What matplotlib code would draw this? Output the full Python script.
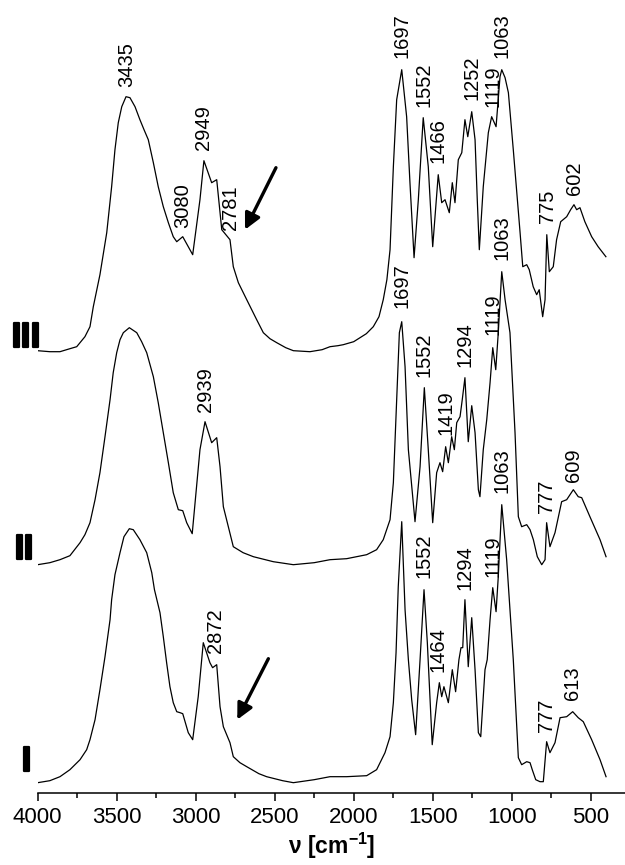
import matplotlib
matplotlib.use("Agg")
import matplotlib.pyplot as plt
import matplotlib.patheffects as pe
from matplotlib.ticker import MultipleLocator

plt.rcParams['font.family'] = ['Liberation Sans', 'DejaVu Sans']
plt.rcParams['mathtext.fontset'] = 'custom'
plt.rcParams['mathtext.rm'] = 'Liberation Sans'
plt.rcParams['mathtext.bf'] = 'Liberation Sans:bold'

# (wavenumber, intensity), each spectrum above its own baseline
spec_I = [
    (4000, 0.00), (3923, 0.02), (3859, 0.06), (3796, 0.13), (3732, 0.23), (3690, 0.33),
    (3669, 0.43), (3637, 0.63), (3606, 0.93), (3574, 1.26), (3542, 1.63), (3532, 1.83),
    (3511, 2.08), (3479, 2.30), (3454, 2.46), (3420, 2.54), (3395, 2.53), (3353, 2.43),
    (3310, 2.30), (3278, 2.10), (3261, 1.93), (3226, 1.70), (3205, 1.46), (3184, 1.20),
    (3163, 0.96), (3142, 0.80), (3120, 0.71), (3099, 0.70), (3082, 0.69), (3047, 0.50),
    (3019, 0.43), (2984, 0.86), (2952, 1.40), (2910, 1.20), (2893, 1.15), (2867, 1.18),
    (2846, 0.76), (2825, 0.56), (2783, 0.40), (2762, 0.26), (2720, 0.20), (2677, 0.16),
    (2600, 0.09), (2551, 0.06), (2450, 0.02), (2382, 0.00), (2250, 0.03), (2150, 0.06),
    (2045, 0.06), (1918, 0.07), (1855, 0.13), (1802, 0.30), (1770, 0.46), (1749, 0.80),
    (1732, 1.30), (1718, 1.96), (1696, 2.61), (1675, 1.73), (1654, 1.23), (1633, 0.83),
    (1608, 0.48), (1580, 1.23), (1555, 1.93), (1534, 1.40), (1503, 0.38), (1475, 0.80),
    (1458, 1.00), (1443, 0.86), (1429, 0.96), (1401, 0.80), (1376, 1.13), (1355, 0.91),
    (1334, 1.23), (1321, 1.35), (1310, 1.35), (1296, 1.83), (1275, 1.16), (1253, 1.65),
    (1232, 1.13), (1211, 0.50), (1196, 0.46), (1169, 1.13), (1155, 1.23), (1137, 1.63),
    (1120, 1.95), (1099, 1.71), (1085, 2.06), (1063, 2.78), (1032, 2.23), (990, 1.23),
    (958, 0.25), (937, 0.18), (905, 0.21), (884, 0.20), (870, 0.13), (848, 0.03),
    (821, 0.01), (800, 0.01), (779, 0.41), (758, 0.30), (726, 0.40), (694, 0.65),
    (652, 0.66), (614, 0.71), (579, 0.65), (547, 0.61), (494, 0.43), (441, 0.23),
    (403, 0.06)]

spec_II = [
    (4000, 0.00), (3923, 0.02), (3859, 0.05), (3796, 0.09), (3732, 0.22), (3701, 0.30),
    (3669, 0.42), (3637, 0.65), (3606, 0.92), (3574, 1.28), (3542, 1.65), (3522, 1.92),
    (3500, 2.12), (3479, 2.25), (3458, 2.32), (3420, 2.37), (3373, 2.32), (3342, 2.23),
    (3310, 2.12), (3268, 1.88), (3237, 1.62), (3205, 1.32), (3173, 1.02), (3142, 0.72),
    (3110, 0.55), (3082, 0.54), (3057, 0.42), (3022, 0.31), (2973, 1.15), (2941, 1.43),
    (2899, 1.22), (2867, 1.27), (2846, 0.98), (2825, 0.58), (2762, 0.18), (2700, 0.12),
    (2635, 0.08), (2509, 0.03), (2382, 0.00), (2250, 0.02), (2150, 0.05), (2045, 0.06),
    (1918, 0.10), (1855, 0.15), (1813, 0.25), (1770, 0.45), (1749, 0.82), (1728, 1.65),
    (1711, 2.32), (1696, 2.43), (1675, 1.98), (1654, 1.15), (1612, 0.43), (1580, 0.98),
    (1553, 1.77), (1528, 1.15), (1500, 0.42), (1475, 0.92), (1454, 1.02), (1437, 0.93),
    (1418, 1.18), (1401, 1.02), (1380, 1.28), (1363, 1.15), (1348, 1.42), (1327, 1.48),
    (1313, 1.65), (1296, 1.87), (1275, 1.23), (1253, 1.59), (1232, 1.32), (1211, 0.75),
    (1201, 0.68), (1180, 1.15), (1158, 1.45), (1137, 1.82), (1120, 2.17), (1101, 1.95),
    (1085, 2.32), (1063, 2.93), (1042, 2.65), (1011, 2.32), (979, 1.32), (958, 0.48),
    (937, 0.38), (905, 0.40), (884, 0.35), (863, 0.25), (838, 0.08), (810, 0.00),
    (789, 0.05), (779, 0.42), (758, 0.18), (726, 0.32), (684, 0.63), (652, 0.65),
    (610, 0.75), (579, 0.68), (557, 0.67), (505, 0.48), (441, 0.25), (403, 0.08)]

spec_III = [
    (4000, 0.01), (3923, 0.00), (3859, 0.00), (3796, 0.03), (3753, 0.05), (3701, 0.15),
    (3669, 0.25), (3648, 0.45), (3606, 0.77), (3563, 1.19), (3532, 1.65), (3511, 2.02),
    (3490, 2.29), (3468, 2.45), (3441, 2.55), (3416, 2.54), (3384, 2.45), (3353, 2.32),
    (3327, 2.22), (3300, 2.12), (3268, 1.89), (3237, 1.65), (3205, 1.45), (3173, 1.29),
    (3142, 1.15), (3120, 1.10), (3082, 1.15), (3019, 0.97), (2973, 1.52), (2948, 1.91),
    (2899, 1.69), (2867, 1.72), (2835, 1.22), (2783, 1.12), (2762, 0.85), (2730, 0.69),
    (2677, 0.52), (2614, 0.32), (2572, 0.19), (2530, 0.13), (2487, 0.09), (2430, 0.04),
    (2382, 0.01), (2277, 0.00), (2200, 0.02), (2150, 0.05), (2100, 0.06), (2066, 0.07),
    (2000, 0.10), (1960, 0.14), (1920, 0.18), (1876, 0.25), (1840, 0.35), (1813, 0.52),
    (1790, 0.72), (1770, 1.02), (1749, 1.85), (1728, 2.52), (1696, 2.82), (1665, 2.35),
    (1644, 1.69), (1618, 0.94), (1591, 1.52), (1560, 2.34), (1528, 1.85), (1500, 1.05),
    (1465, 1.77), (1443, 1.49), (1422, 1.52), (1395, 1.39), (1376, 1.69), (1359, 1.49),
    (1338, 1.92), (1316, 1.99), (1296, 2.32), (1278, 2.15), (1253, 2.40), (1232, 2.12),
    (1218, 1.52), (1205, 1.02), (1180, 1.65), (1148, 2.19), (1127, 2.35), (1099, 2.25),
    (1074, 2.75), (1063, 2.82), (1042, 2.74), (1021, 2.59), (990, 2.02), (947, 1.19),
    (930, 0.85), (905, 0.87), (889, 0.82), (864, 0.65), (842, 0.57), (826, 0.62),
    (804, 0.35), (789, 0.52), (778, 1.17), (762, 0.80), (737, 0.85), (716, 1.12),
    (690, 1.30), (652, 1.35), (627, 1.42), (606, 1.47), (589, 1.42), (568, 1.44),
    (537, 1.30), (494, 1.15), (453, 1.05), (404, 0.95)]

sample_names = ['I', 'II', 'III']

# band labels: (text, height of label foot)
labels_I = [('2872', 1.40), ('1552', 2.15), ('1464', 1.21), ('1294', 2.03), ('1119', 2.16),
            ('1063', 3.00), ('777', 0.61), ('613', 0.93)]
labels_II = [('2939', 3.81), ('1697', 4.85), ('1552', 4.16), ('1419', 3.58), ('1294', 4.26),
             ('1119', 4.58), ('1063', 5.33), ('777', 2.80), ('609', 3.11)]
labels_III = [('3435', 7.06), ('3080', 5.65), ('2949', 6.43), ('2781', 5.63), ('1697', 7.35),
              ('1552', 6.86), ('1466', 6.30), ('1252', 6.93), ('1119', 6.86), ('1063', 7.35),
              ('775', 5.70), ('602', 5.98)]

offsets = [0.10, 2.28, 4.41]

fig = plt.figure(figsize=(6.25, 8.65), dpi=100)
ax = fig.add_axes([0.0603, 0.0836, 0.9397, 0.9164])

for spec, off in zip([spec_I, spec_II, spec_III], offsets):
    wn = [p[0] for p in spec]
    ab = [p[1] + off for p in spec]
    ax.plot(wn, ab, color='black', lw=0.9)

for labels in (labels_I, labels_II, labels_III):
    for txt, yy in labels:
        ax.text(float(txt), yy, txt, rotation=90, ha='center', va='bottom', fontsize=14.5)

# arrows pointing at the shoulder near 2781
arrow_kw = dict(arrowstyle='-|>', lw=2.4, color='black', mutation_scale=24, shrinkA=0, shrinkB=0)
ax.annotate('', xy=(2688, 5.63), xytext=(2492, 6.25), arrowprops=arrow_kw)
ax.annotate('', xy=(2737, 0.73), xytext=(2540, 1.34), arrowprops=arrow_kw)

# sample names at left
name_pos = [(0.0424, 0.1087), (0.0384, 0.354), (0.0416, 0.599)]
for name, (fx, fy) in zip(sample_names, name_pos):
    fig.text(fx, fy, name, ha='center', va='baseline', fontsize=25, fontweight='bold',
             path_effects=[pe.withStroke(linewidth=1.6, foreground='black')])

ax.set_xlim(4000, 283)
ax.set_ylim(0, 7.927)
ax.xaxis.set_major_locator(MultipleLocator(500))
ax.xaxis.set_minor_locator(MultipleLocator(250))
ax.tick_params(axis='x', which='major', length=6, width=1.1, labelsize=16, pad=4)
ax.tick_params(axis='x', which='minor', length=3.5, width=1.1)
ax.set_yticks([])
for s in ['top', 'left', 'right']:
    ax.spines[s].set_visible(False)
ax.spines['bottom'].set_linewidth(1.1)
ax.patch.set_alpha(0)

ax.set_xlabel(r'ν [cm$^{\mathbf{-1}}$]', fontsize=16.5, fontweight='bold', labelpad=2)

fig.savefig('out.png', dpi=100)
